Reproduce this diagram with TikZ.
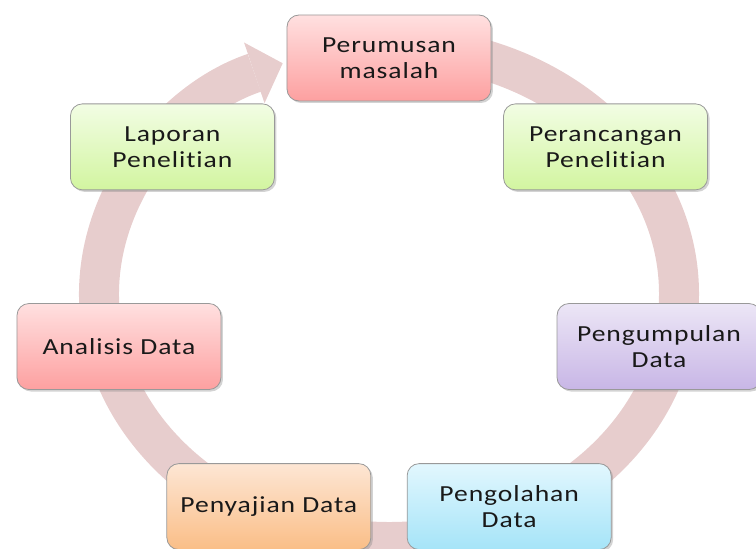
\documentclass[tikz,border=0pt]{standalone}
\usepackage{fontspec}
\setmainfont{Carlito}[FakeStretch=1.2, LetterSpace=4, Ligatures=NoCommon]
\usepackage{tikz}
\usetikzlibrary{arrows.meta, shadows}
\definecolor{ringpink}{RGB}{231,205,205}
\definecolor{pinktop}{RGB}{255,224,224}
\definecolor{pinkbot}{RGB}{253,160,160}
\definecolor{greentop}{RGB}{242,253,228}
\definecolor{greenbot}{RGB}{210,245,160}
\definecolor{violettop}{RGB}{236,230,246}
\definecolor{violetbot}{RGB}{200,182,230}
\definecolor{bluetop}{RGB}{226,247,254}
\definecolor{bluebot}{RGB}{165,228,248}
\definecolor{orangetop}{RGB}{253,230,212}
\definecolor{orangebot}{RGB}{250,190,135}

\begin{document}
\begin{tikzpicture}[x=1pt, y=1pt,
  stage/.style={draw=gray!80, line width=0.8pt, rounded corners=12pt,
    minimum width=204pt, minimum height=86pt, align=center,
    text=black!90, font=\fontsize{23}{26}\selectfont,
    drop shadow={shadow xshift=2pt, shadow yshift=-2pt, opacity=0.35}}]
\useasboundingbox (-389,-255) rectangle (367,294);
\clip (-389,-255) rectangle (367,294);
% ring
\draw[ringpink, line width=40pt, -{Triangle[width=64pt, length=30pt, line width=0pt]}]
  (85:290pt and 248pt) arc[start angle=85, end angle=-248.5, x radius=290pt, y radius=248pt];
% stages
\node[stage, top color=pinktop, bottom color=pinkbot] (rumus) at (90:277pt and 236pt) {Perumusan\\masalah};
\node[stage, top color=greentop, bottom color=greenbot] (rancang) at (38.57:277pt and 236pt) {Perancangan\\Penelitian};
\node[stage, top color=violettop, bottom color=violetbot] (kumpul) at (-12.86:277pt and 236pt) {Pengumpulan\\Data};
\node[stage, top color=bluetop, bottom color=bluebot] (olah) at (-64.29:277pt and 236pt) {Pengolahan\\Data};
\node[stage, top color=orangetop, bottom color=orangebot] (saji) at (-115.71:277pt and 236pt) {Penyajian Data};
\node[stage, top color=pinktop, bottom color=pinkbot] (analisis) at (-167.14:277pt and 236pt) {Analisis Data};
\node[stage, top color=greentop, bottom color=greenbot] (lapor) at (141.43:277pt and 236pt) {Laporan\\Penelitian};
\end{tikzpicture}
\end{document}
